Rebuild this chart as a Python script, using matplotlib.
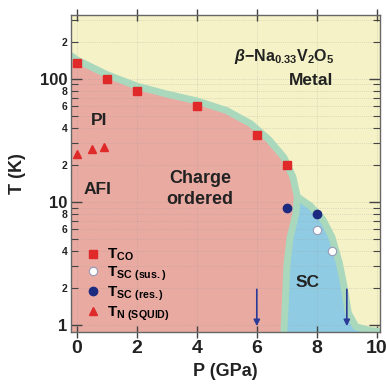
import matplotlib
matplotlib.use("Agg")
import matplotlib.pyplot as plt
from matplotlib.ticker import FixedLocator, FixedFormatter

plt.rcParams['font.family'] = ['Liberation Sans', 'DejaVu Sans']
plt.rcParams['font.weight'] = 'bold'
plt.rcParams['axes.labelweight'] = 'bold'
plt.rcParams['mathtext.fontset'] = 'custom'
plt.rcParams['mathtext.rm'] = 'Liberation Sans:bold'
plt.rcParams['mathtext.it'] = 'Liberation Sans:bold:italic'
plt.rcParams['mathtext.bf'] = 'Liberation Sans:bold'

# ---- data ----
tco_p = [0, 1, 2, 4, 6, 7]
tco_t = [135, 100, 80, 60, 35, 20]
tn_p = [0, 0.5, 0.9]
tn_t = [24.5, 27, 28]
tsc_res_p = [7, 8]
tsc_res_t = [8.9, 8.0]
tsc_sus_p = [8, 8.5]
tsc_sus_t = [5.9, 4.0]
arrow_p = [6, 9]

# phase boundaries
co_bound_p = [-0.2, 0, 1, 2, 3, 4, 5, 5.8, 6.4, 6.9, 7.2, 7.35, 7.3, 7.1, 7.0, 6.95, 6.9]
co_bound_t = [155, 142, 108, 87, 75, 66, 55, 43, 32, 23, 16, 11, 8, 5, 3, 1.5, 0.85]
sc_left_p = [7.35, 7.3, 7.1, 7.0, 6.95, 6.9]
sc_left_t = [11, 8, 5, 3, 1.5, 0.85]
sc_right_p = [7.35, 7.8, 8.2, 8.5, 8.75, 8.9, 9.05, 9.3, 9.8, 10.2]
sc_right_t = [11, 9.2, 7.2, 5.2, 3.2, 2.1, 1.25, 0.97, 0.9, 0.88]

xticks = [0, 2, 4, 6, 8, 10]
ymajor = [1, 10, 100]
yminor = [2, 3, 4, 5, 6, 7, 8, 9, 20, 30, 40, 50, 60, 70, 80, 90, 200, 300]
yminor_labels = ['2', '', '4', '', '6', '', '8', '', '2', '', '4', '', '6', '', '8', '', '2', '']

pink = '#e9aaa2'
yellow = '#f4f2c6'
teal = '#a9d8bc'
blue = '#8fcbe2'

fig = plt.figure(figsize=(3.86, 3.9), dpi=100)
ax = fig.add_axes([0.185, 0.149, 0.799, 0.813])
ax.set_yscale('log')
ax.set_xlim(-0.18, 10.1)
ax.set_ylim(0.88, 330)
ax.set_facecolor(yellow)

# pink region
ax.fill(co_bound_p + [-0.2], co_bound_t + [0.85], color=pink, zorder=1, lw=0)
# blue region
ax.fill(list(reversed(sc_right_p)) + sc_left_p, list(reversed(sc_right_t)) + sc_left_t,
        color=blue, zorder=1, lw=0)
# teal bands
ax.plot(co_bound_p, co_bound_t, color=teal, lw=5, zorder=2, solid_capstyle='butt')
ax.plot(sc_right_p, sc_right_t, color=teal, lw=5, zorder=2, solid_capstyle='butt')

# grid
for x in xticks:
    ax.axvline(x, color='#999999', lw=0.5, ls=':', alpha=0.5, zorder=1.5)
for y in ymajor + yminor:
    ax.axhline(y, color='#999999', lw=0.5, ls=':', alpha=0.5, zorder=1.5)

# markers
ax.plot(tco_p, tco_t, 's', color='#e02a2a', ms=6, mec='#e02a2a', zorder=5, label=r'T$_{\mathrm{CO}}$')
ax.plot(tsc_sus_p, tsc_sus_t, 'o', color='white', mec='#9999bb', mew=0.8, ms=6, zorder=5,
        label=r'T$_{\mathrm{SC\ (sus.)}}$')
ax.plot(tsc_res_p, tsc_res_t, 'o', color='#1c2a80', mec='#1c2a80', ms=6, zorder=5,
        label=r'T$_{\mathrm{SC\ (res.)}}$')
ax.plot(tn_p, tn_t, '^', color='#e02a2a', mec='#e02a2a', ms=6, zorder=5,
        label=r'T$_{\mathrm{N\ (SQUID)}}$')

for p in arrow_p:
    ax.annotate('', xy=(p, 0.98), xytext=(p, 1.95),
                arrowprops=dict(arrowstyle='-|>', color='#2b3a98', lw=1.2,
                                mutation_scale=9, shrinkA=0, shrinkB=0), zorder=6)

leg = ax.legend(loc='lower left', bbox_to_anchor=(0.015, -0.005), frameon=False,
                fontsize=11, handlelength=0.8, handletextpad=0.5, labelspacing=0.1,
                borderaxespad=0.3)

# text labels
ax.text(6.9, 150, r'$\beta$$-$Na$_{0.33}$V$_2$O$_5$', fontsize=11.5, ha='center', va='center',
        color='#222222', zorder=6)
ax.text(7.8, 96, 'Metal', fontsize=12.5, ha='center', va='center', color='#222222', zorder=6)
ax.text(0.75, 46, 'PI', fontsize=12.5, ha='center', va='center', color='#222222', zorder=6)
ax.text(0.7, 12.5, 'AFI', fontsize=12.5, ha='center', va='center', color='#222222', zorder=6)
ax.text(4.1, 12.8, 'Charge\nordered', fontsize=13, ha='center', va='center', color='#222222',
        linespacing=1.3, zorder=6)
ax.text(7.7, 2.2, 'SC', fontsize=12.5, ha='center', va='center', color='#222222', zorder=6)

# ticks
ax.xaxis.set_major_locator(FixedLocator(xticks))
ax.set_xticklabels([str(x) for x in xticks])
ax.yaxis.set_major_locator(FixedLocator(ymajor))
ax.yaxis.set_major_formatter(FixedFormatter(['1', '10', '100']))
ax.yaxis.set_minor_locator(FixedLocator(yminor))
ax.yaxis.set_minor_formatter(FixedFormatter(yminor_labels))
ax.tick_params(axis='x', which='major', direction='inout', length=8, width=1, colors='#444444',
               top=True, labelsize=14, labelcolor='#222222', pad=2)
ax.tick_params(axis='y', which='major', direction='in', length=8, width=1, colors='#444444',
               right=True, labelsize=12, labelcolor='#222222', pad=3)
ax.tick_params(axis='y', which='minor', direction='in', length=5, width=0.8, colors='#444444',
               right=True, labelsize=7.5, labelcolor='#222222', pad=3)
for s in ax.spines.values():
    s.set_color('#666666')
    s.set_linewidth(1)
    s.set_zorder(7)

ax.set_xlabel('P (GPa)', fontsize=13, color='#222222', labelpad=4)
ax.set_ylabel('T (K)', fontsize=13, color='#222222', labelpad=10)

fig.savefig('out.png', dpi=100)
